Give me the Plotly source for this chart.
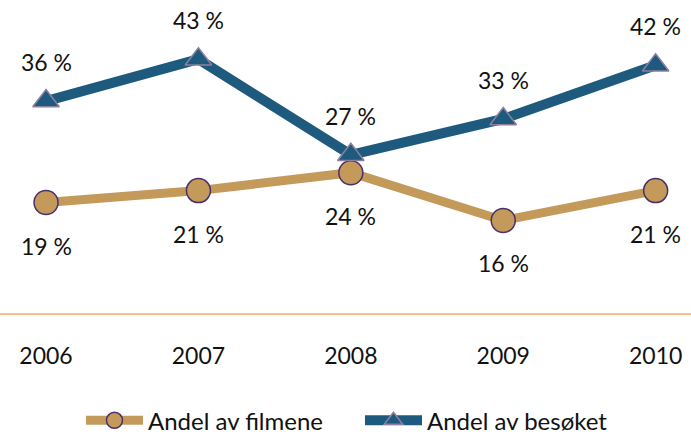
import plotly.graph_objects as go

years = ["2006", "2007", "2008", "2009", "2010"]
andel_filmene = [19, 21, 24, 16, 21]
andel_besoket = [36, 43, 27, 33, 42]

xs = list(range(len(years)))
TAN = "#c49a5a"
BLUE = "#1d5a7e"
FONT = "Lato, Liberation Sans, sans-serif"

fig = go.Figure()
fig.add_trace(go.Scatter(
    x=xs, y=andel_filmene, name="Andel av filmene", mode="lines+markers",
    line=dict(color=TAN, width=9), legendwidth=207,
    marker=dict(symbol="circle", size=24, color=TAN, line=dict(color="#4b2e6b", width=1.5)),
))
fig.add_trace(go.Scatter(
    x=xs, y=andel_besoket, name="Andel av besøket", mode="lines+markers",
    line=dict(color=BLUE, width=10),
    marker=dict(symbol="triangle-up", size=23, color=BLUE, line=dict(color="#8d7fa0", width=1.5)),
))

annotations = []
for x, v in zip(xs, andel_filmene):
    annotations.append(dict(x=x, y=v, text=f"{v} %", showarrow=False, yshift=-43,
                            font=dict(size=23, color="#111", family=FONT)))
for x, v in zip(xs, andel_besoket):
    annotations.append(dict(x=x, y=v, text=f"{v} %", showarrow=False, yshift=39,
                            font=dict(size=23, color="#111", family=FONT)))

fig.update_layout(
    width=691, height=438,
    margin=dict(l=0, r=0, t=13, b=125, autoexpand=False),
    paper_bgcolor="white", plot_bgcolor="white",
    font=dict(family=FONT, size=23, color="#111"),
    annotations=annotations,
    showlegend=True,
    legend=dict(orientation="h", x=0.1172, xanchor="left", y=-0.359, yanchor="middle",
                font=dict(size=24, family=FONT), itemwidth=57, tracegroupgap=0,
                bgcolor="rgba(0,0,0,0)"),
    xaxis=dict(range=[-0.302, 4.232], tickvals=xs, ticktext=years, showgrid=False,
               zeroline=False, showline=True, linecolor="#f7c08a", linewidth=2,
               ticks="", ticklabelstandoff=21, tickfont=dict(size=23, family=FONT)),
    yaxis=dict(range=[0.5, 50.75], visible=False, showgrid=False, zeroline=False),
)

# remove the page's default body margin so the figure fills the window exactly
fig.write_html("out.html", config={"displayModeBar": False},
               post_script="document.body.style.margin='0px';")
